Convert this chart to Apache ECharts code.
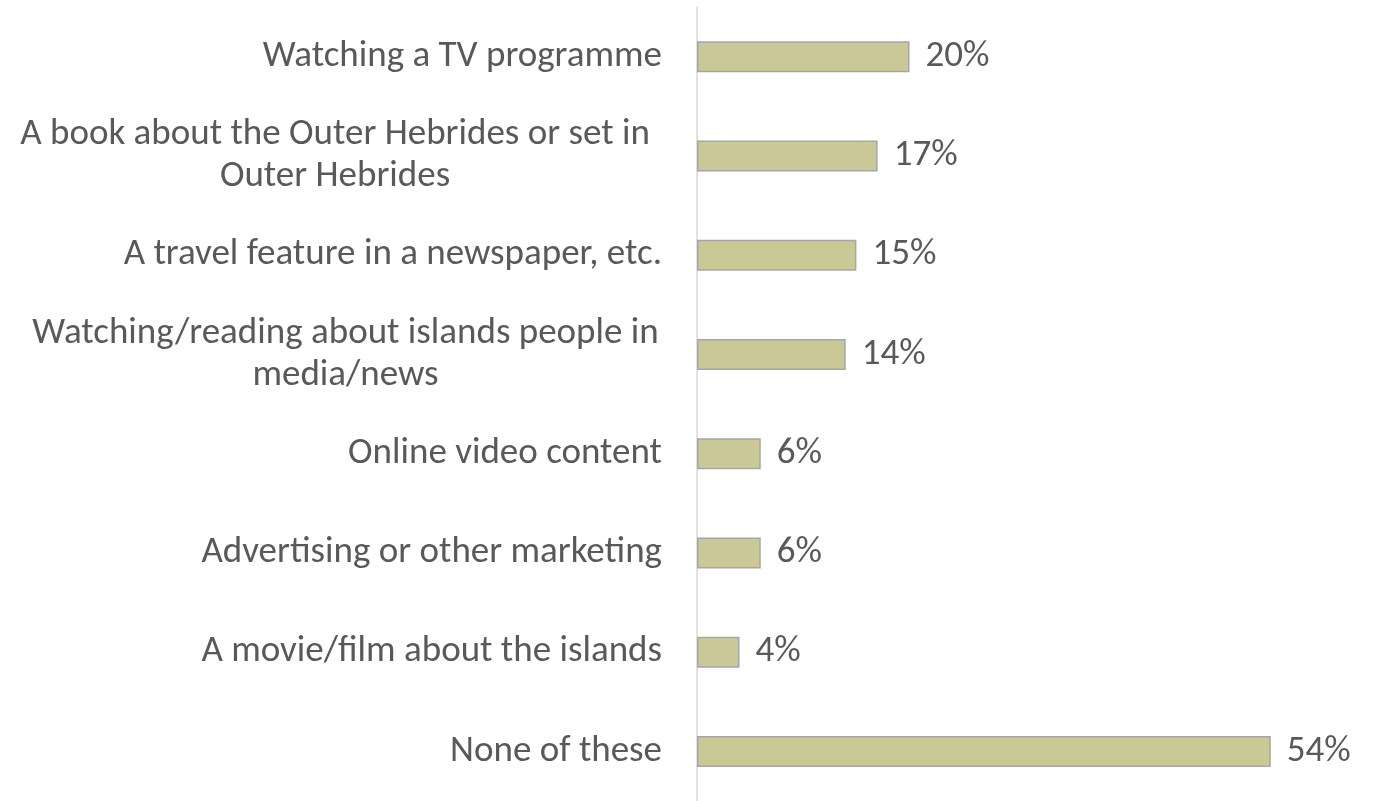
<!DOCTYPE html>
<html>
<head>
<meta charset="utf-8">
<script src="https://cdn.jsdelivr.net/npm/echarts@6/dist/echarts.min.js"></script>
<style>
html,body{margin:0;padding:0;background:#fff;}
#chart{width:1376px;height:801px;}
</style>
</head>
<body>
<div id="chart"></div>
<script>
const categories = [
  'Watching a TV programme',
  'A book about the Outer Hebrides or set in\nOuter Hebrides',
  'A travel feature in a newspaper, etc.',
  'Watching/reading about islands people in\nmedia/news',
  'Online video content',
  'Advertising or other marketing',
  'A movie/film about the islands',
  'None of these'
];
const values = [20, 17, 15, 14, 6, 6, 4, 54];
const wrapWidths = [0, 654, 0, 633, 0, 0, 0, 0];

const FONT = 'Carlito, Lato, sans-serif';
const FS = 37;
const LH = 42;

const chart = echarts.init(document.getElementById('chart'));
chart.setOption({
  animation: false,
  grid: { left: 697, top: 7, width: 637.5, height: 800 },
  xAxis: {
    type: 'value', min: 0, max: 60,
    show: false
  },
  yAxis: {
    type: 'category',
    inverse: true,
    data: categories,
    axisLine: { show: true, lineStyle: { color: '#D9D9D9', width: 1.5 } },
    axisTick: { show: false },
    axisLabel: {
      margin: 35,
      color: '#595959',
      fontFamily: FONT,
      fontSize: FS,
      lineHeight: LH,
      align: 'right',
      formatter: function (v, i) {
        if (wrapWidths[i]) {
          return v.split('\n').map(s => '{w' + i + '|' + s + '}').join('\n');
        }
        return v;
      },
      rich: Object.fromEntries(wrapWidths.map((w, i) => ['w' + i, {
        width: w || undefined, align: 'center', fontFamily: FONT, fontSize: FS, color: '#595959', lineHeight: LH
      }]))
    }
  },
  series: [{
    type: 'bar',
    data: values,
    barWidth: 31,
    itemStyle: { color: '#CAC896', borderColor: '#A3A7A8', borderWidth: 1.5 },
    label: {
      show: true, position: 'right', distance: 16,
      formatter: '{c}%', color: '#595959', fontFamily: FONT, fontSize: FS
    }
  }]
});
</script>
</body>
</html>
